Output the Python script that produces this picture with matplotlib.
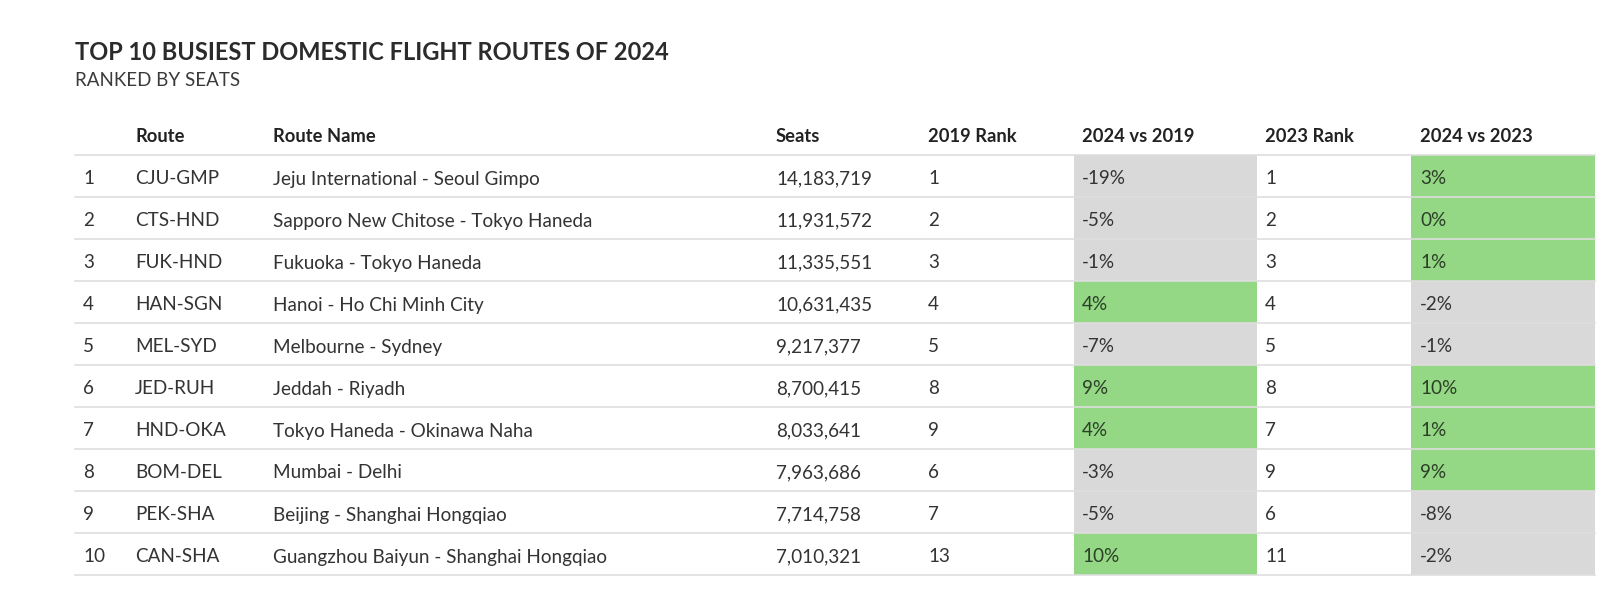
import matplotlib.pyplot as plt

# table data
ranks = [1, 2, 3, 4, 5, 6, 7, 8, 9, 10]
routes = ['CJU-GMP', 'CTS-HND', 'FUK-HND', 'HAN-SGN', 'MEL-SYD',
          'JED-RUH', 'HND-OKA', 'BOM-DEL', 'PEK-SHA', 'CAN-SHA']
route_names = ['Jeju International - Seoul Gimpo', 'Sapporo New Chitose - Tokyo Haneda',
               'Fukuoka - Tokyo Haneda', 'Hanoi - Ho Chi Minh City', 'Melbourne - Sydney',
               'Jeddah - Riyadh', 'Tokyo Haneda - Okinawa Naha', 'Mumbai - Delhi',
               'Beijing - Shanghai Hongqiao', 'Guangzhou Baiyun - Shanghai Hongqiao']
seats = [14183719, 11931572, 11335551, 10631435, 9217377,
         8700415, 8033641, 7963686, 7714758, 7010321]
rank_2019 = [1, 2, 3, 4, 5, 8, 9, 6, 7, 13]
chg_2019 = [-19, -5, -1, 4, -7, 9, 4, -3, -5, 10]
rank_2023 = [1, 2, 3, 4, 5, 8, 7, 9, 6, 11]
chg_2023 = [3, 0, 1, -2, -1, 10, 1, 9, -8, -2]

headers = ['', 'Route', 'Route Name', 'Seats', '2019 Rank', '2024 vs 2019', '2023 Rank', '2024 vs 2023']

GREEN = '#94d784'
GRAY = '#d9d9d9'
LINE = '#dedede'
TXT = '#333333'

plt.rcParams['font.family'] = ['Lato', 'DejaVu Sans']

fig = plt.figure(figsize=(16.19, 6.02), dpi=100)
ax = fig.add_axes([0, 0, 1, 1])
ax.set_xlim(0, 1619)
ax.set_ylim(602, 0)
ax.axis('off')

# layout (pixels)
left, right = 75, 1595
top, row_h = 155, 42
col_x = [83, 135, 273, 776, 928, 1082, 1265, 1420]
cell_edges = {5: (1074, 1257), 7: (1411, 1595)}

ax.text(75, 52, 'TOP 10 BUSIEST DOMESTIC FLIGHT ROUTES OF 2024', fontsize=17,
        fontweight='bold', color='#2b2b2b', va='center')
ax.text(75, 81, 'RANKED BY SEATS', fontsize=13.5, color='#3a3a3a', va='center')

for j, h in enumerate(headers):
    ax.text(col_x[j], 137, h, fontsize=13.2, fontweight='bold', color='#222222', va='center')

ax.plot([left, right], [top, top], color=LINE, lw=1.2)

for i in range(len(ranks)):
    y0 = top + i * row_h
    yc = y0 + row_h / 2 + 3
    for col, vals in ((5, chg_2019), (7, chg_2023)):
        x0, x1 = cell_edges[col]
        c = GREEN if vals[i] >= 0 else GRAY
        ax.add_patch(plt.Rectangle((x0, y0), x1 - x0, row_h, color=c, lw=0, zorder=0))
    cells = [str(ranks[i]), routes[i], route_names[i], f'{seats[i]:,}',
             str(rank_2019[i]), f'{chg_2019[i]}%', str(rank_2023[i]), f'{chg_2023[i]}%']
    for j, s in enumerate(cells):
        color = TXT
        if j == 5 and chg_2019[i] >= 0 or j == 7 and chg_2023[i] >= 0:
            color = '#2c3f28'
        ax.text(col_x[j], yc, s, fontsize=13.6, color=color, va='center')
    ax.plot([left, right], [y0 + row_h, y0 + row_h], color=LINE, lw=1.2, zorder=1)

fig.savefig('out.png', dpi=100, facecolor='white')
